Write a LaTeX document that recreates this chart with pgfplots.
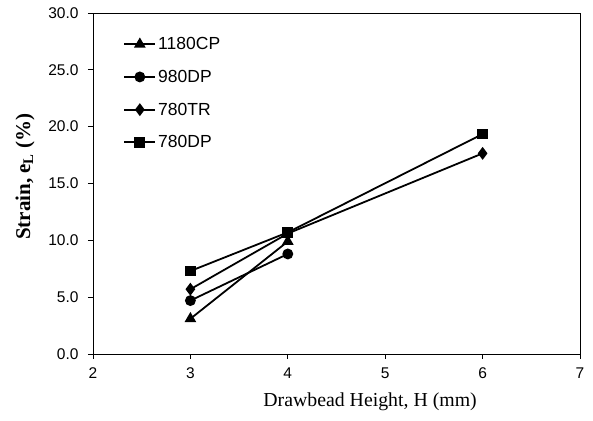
\documentclass[border=0pt]{standalone}
\usepackage{pgfplots}
\pgfplotsset{compat=1.18}
\usepackage{fontspec}
\setmainfont{Liberation Serif}
\newfontfamily\arial{Liberation Sans}
\begin{document}
\begin{tikzpicture}
\begin{axis}[
  scale only axis,
  width=487pt, height=341pt,
  xmin=2, xmax=7, ymin=0, ymax=30,
  xtick={2,3,4,5,6,7},
  ytick={0,5,10,15,20,25,30},
  tick pos=left, tick align=outside,
  major tick length=5pt,
  axis line style={line width=0.8pt},
  every tick/.style={line width=0.8pt, black},
  /pgf/number format/assume math mode=true,
  yticklabel={\pgfmathprintnumber[fixed,fixed zerofill,precision=1]{\tick}},
  ticklabel style={font=\arial\fontsize{15.5}{18}\selectfont},
  yticklabel style={xshift=-6pt},
  xticklabel style={yshift=-5pt},
  xlabel={Drawbead Height, H (mm)},
  ylabel={\textbf{Strain, e\textsubscript{L} (\%)}},
  every axis x label/.style={at={(axis description cs:0.569,0)}, anchor=center, yshift=-48pt, font=\fontsize{19.8}{22}\selectfont},
  every axis y label/.style={at={(axis description cs:0,0.52)}, anchor=center, xshift=-68pt, rotate=90, font=\fontsize{21}{24}\selectfont},
  legend style={at={(axis description cs:0.058,0.935)}, anchor=north west, draw=none, fill=none,
    font=\arial\fontsize{17.5}{20}\selectfont, row sep=15pt, inner xsep=2pt, inner ysep=0pt},
  legend cell align=left,
  legend image code/.code={\draw[mark repeat=2,mark phase=2,line width=1.8pt,#1] plot coordinates {(0pt,0pt)(15.5pt,0pt)(31pt,0pt)};},
  every axis plot/.append style={black, line width=1.8pt, mark options={solid, fill=black}},
]
\addplot[mark=triangle*, mark size=5pt] coordinates {(3,3.1) (4,9.9)};
\addlegendentry{1180CP}
\addplot[mark=*, mark size=4.5pt] coordinates {(3,4.7) (4,8.8)};
\addlegendentry{980DP}
\addplot[mark=diamond*, mark size=5pt] coordinates {(3,5.7) (4,10.6) (6,17.65)};
\addlegendentry{780TR}
\addplot[mark=square*, mark size=4.5pt] coordinates {(3,7.3) (4,10.7) (6,19.35)};
\addlegendentry{780DP}
\end{axis}
\pgfresetboundingbox
\path (current axis.south west) ++(-93pt,-67pt) coordinate (bl);
\path (current axis.north east) ++(13pt,13pt) coordinate (tr);
\path[use as bounding box] (bl) rectangle (tr);
\end{tikzpicture}
\end{document}
